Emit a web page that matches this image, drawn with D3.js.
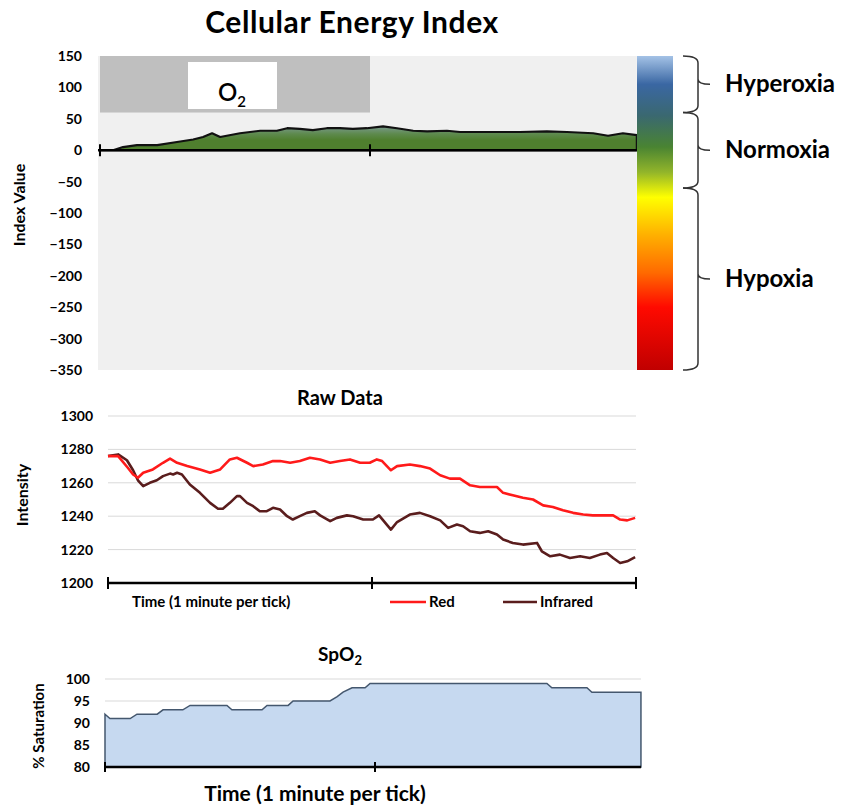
<!DOCTYPE html>
<html>
<head>
<meta charset="utf-8">
<script src="https://cdn.jsdelivr.net/npm/d3@7"></script>
<style>
  body { margin: 0; background: #fff; }
  svg text { font-family: Lato, "Open Sans", sans-serif; font-weight: bold; fill: #000; }
</style>
</head>
<body>
<svg id="chart" width="862" height="809"></svg>
<script>
// ---- data ----
// time in seconds, 1 minute per tick
var eiT = [0, 2.9, 5.1, 8.2, 12.7, 17.1, 20.7, 22.9, 24.9, 26.7, 31.1, 35.6, 39.3, 41.6, 44.4, 47.3, 50.4, 53.3, 56.2, 59.3,
  62.9, 66, 69.6, 72.7, 77.1, 80, 86, 89.6, 93.3, 99.3, 103.8, 109.6, 112.9, 116.2, 119.3];
var eiV = [0, 0, 5, 8, 8, 13, 17, 21, 27, 21, 27, 31, 31, 35, 34, 32, 35, 35, 34, 35,
  38, 35, 31, 30, 31, 29, 29, 29, 29, 30, 29, 27, 23, 27, 24];

var o2Period = [0, 60];       // O2 exposure window (s)
var o2Band = [60, 150];       // drawn band on index axis
var eiTicks = [150, 100, 50, 0, -50, -100, -150, -200, -250, -300, -350];

var zoneNames = ["Hyperoxia", "Normoxia", "Hypoxia"];
var zoneHi = [150, 60, -60];
var zoneLo = [60, -60, -350];

var redT = [0, 2.3, 4.5, 5.7, 6.8, 8, 10.2, 12.5, 14.1, 15.7, 18, 20.9, 23.2, 25.5, 27.7, 29.3, 31.6, 33, 35.2, 37.5,
  39.1, 41.4, 43.6, 45.9, 48.2, 50.5, 52.7, 55, 57.3, 59.5, 61.1, 62.3, 64.3, 65.7, 68.6, 70.9, 73.2, 75.5, 77.7, 80,
  82.3, 84.5, 88.4, 89.8, 92, 94.3, 96.6, 98.9, 101.1, 103.4, 105.7, 108, 110.2, 114.8, 116.4, 118, 119.8];
var redV = [1276, 1276, 1269, 1265, 1263, 1266, 1268, 1272, 1274.5, 1272, 1270, 1268, 1266, 1268, 1274, 1275, 1272, 1270, 1271, 1273,
  1273, 1272, 1273, 1275, 1274, 1272, 1273, 1274, 1272, 1272, 1274, 1273, 1267.5, 1270, 1271, 1270, 1268.5, 1264.5, 1262.5, 1262.5,
  1258.5, 1257.5, 1257.5, 1254, 1252.5, 1251, 1250, 1246.5, 1245.5, 1243.5, 1242, 1241, 1240.5, 1240.5, 1238, 1237.5, 1239];

var irT = [0, 2.3, 4.3, 5.7, 6.8, 8, 9.5, 11.1, 12.5, 14.1, 14.8, 15.7, 16.8, 18.6, 20.9, 23.2, 25, 26.1, 27.7, 29.3,
  30, 31.6, 33, 34.5, 36.1, 37.5, 39.1, 40.7, 42, 43.6, 45.2, 47, 48.2, 50.5, 52, 54.3, 55.7, 58, 60.2, 61.6,
  64.3, 65.7, 68.6, 70.9, 73.2, 75.5, 77.3, 79.3, 80.7, 82.3, 84.5, 86.4, 88.4, 89.8, 92, 94.3, 97.5, 98.6, 100.5, 102.7,
  105, 107.3, 109.5, 111.8, 113.4, 114.8, 116.4, 118, 119.8];
var irV = [1276, 1277, 1273.5, 1267.5, 1261.5, 1258, 1260, 1261.5, 1264, 1265.5, 1265, 1266, 1265, 1259, 1254, 1248, 1244.5, 1244.5, 1248, 1252,
  1252, 1248, 1246, 1243, 1243, 1245, 1244, 1240, 1238, 1240, 1242, 1243, 1240.5, 1237, 1239, 1240.5, 1240, 1238, 1238, 1240.5,
  1232, 1236.5, 1241, 1242, 1240, 1237.5, 1233, 1235, 1234, 1231, 1230, 1231, 1229, 1226, 1224, 1223, 1224, 1219, 1216, 1217,
  1215, 1216, 1215, 1217, 1218, 1215, 1212, 1213, 1215.5];
var rawTicks = [1200, 1220, 1240, 1260, 1280, 1300];

var spoT = [0, 1.1, 5.6, 7.1, 11.6, 12.9, 17.3, 18.9, 27.1, 28.2, 34.9, 36, 40.7, 41.8, 50, 51.6, 52.9, 54.9, 57.8, 58.9,
  98.2, 99.3, 107.1, 108.2, 119.1];
var spoV = [92, 91, 91, 92, 92, 93, 93, 94, 94, 93, 93, 94, 94, 95, 95, 96, 97, 98, 98, 99,
  99, 98, 98, 97, 97];
var spoTicks = [80, 85, 90, 95, 100];

var minuteTicks = [0, 60, 120];

var svg = d3.select("#chart");

function zip(ts, vs) { return ts.map(function(t, i) { return {t: t, v: vs[i]}; }); }

// ============ Cellular Energy Index ============
var xTop = d3.scaleLinear().domain([0, 120]).range([100, 640]);
var yTop = d3.scaleLinear().domain([-350, 150]).range([370, 56]);

svg.append("text").attr("x", 352).attr("y", 33).attr("text-anchor", "middle")
  .style("font-size", "30px").style("letter-spacing", "0.6px").text("Cellular Energy Index");

svg.append("rect").attr("x", 98).attr("y", yTop(150))
  .attr("width", xTop(119.3) - 98).attr("height", yTop(-350) - yTop(150))
  .attr("fill", "#f0f0f0");

// O2 band
svg.append("rect").attr("x", xTop(o2Period[0])).attr("y", yTop(o2Band[1]))
  .attr("width", xTop(o2Period[1]) - xTop(o2Period[0]))
  .attr("height", yTop(o2Band[0]) - yTop(o2Band[1]))
  .attr("fill", "#bfbfbf");
svg.append("rect").attr("x", 188).attr("y", 62).attr("width", 89).attr("height", 47).attr("fill", "#fff");
var o2 = svg.append("text").attr("x", 232).attr("y", 101).attr("text-anchor", "middle")
  .style("font-size", "24px").style("font-weight", "600");
o2.append("tspan").text("O");
o2.append("tspan").attr("dy", 6).style("font-size", "15px").text("2");

// area gradient
var defs = svg.append("defs");
var gg = defs.append("linearGradient").attr("id", "eiFill")
  .attr("gradientUnits", "userSpaceOnUse")
  .attr("x1", 0).attr("x2", 0).attr("y1", yTop(40)).attr("y2", yTop(0));
gg.append("stop").attr("offset", "0%").attr("stop-color", "#7e9c98");
gg.append("stop").attr("offset", "35%").attr("stop-color", "#5e8a4e");
gg.append("stop").attr("offset", "60%").attr("stop-color", "#4f7f2e");
gg.append("stop").attr("offset", "100%").attr("stop-color", "#4f7f2e");

var eiArea = d3.area().x(function(d) { return xTop(d.t); })
  .y0(yTop(0)).y1(function(d) { return yTop(d.v); });
svg.append("path").datum(zip(eiT, eiV)).attr("d", eiArea)
  .attr("fill", "url(#eiFill)").attr("stroke", "#111").attr("stroke-width", 2.2)
  .attr("stroke-linejoin", "round");

var topAxis = d3.axisLeft(yTop).tickValues(eiTicks).tickSize(0).tickPadding(0);
svg.append("g").attr("transform", "translate(82,0)").call(topAxis)
  .call(function(g) { g.select(".domain").remove(); })
  .selectAll("text").style("font-size", "14px").attr("fill", "#000");

svg.append("line").attr("x1", 98).attr("x2", xTop(119.3)).attr("y1", yTop(0)).attr("y2", yTop(0))
  .attr("stroke", "#000").attr("stroke-width", 2.5);
svg.selectAll(".tickTop").data([0, 60]).enter().append("line")
  .attr("x1", function(d) { return xTop(d); }).attr("x2", function(d) { return xTop(d); })
  .attr("y1", yTop(0) - 6).attr("y2", yTop(0) + 6)
  .attr("stroke", "#000").attr("stroke-width", 2);

svg.append("text").attr("transform", "translate(25,205) rotate(-90)")
  .attr("text-anchor", "middle").style("font-size", "16px").text("Index Value");

// colour bar
var cb = defs.append("linearGradient").attr("id", "cbar")
  .attr("x1", 0).attr("x2", 0).attr("y1", 0).attr("y2", 1);
[["0%", "#a4c2e6"], ["9%", "#3a67a3"], ["19%", "#3a6870"], ["29%", "#4a8432"], ["37%", "#92b52a"],
 ["45%", "#ffff00"], ["57%", "#ffb000"], ["69%", "#ff6a00"], ["80%", "#ff0a00"], ["100%", "#c00000"]]
  .forEach(function(s) { cb.append("stop").attr("offset", s[0]).attr("stop-color", s[1]); });
svg.append("rect").attr("x", 637).attr("y", yTop(150)).attr("width", 36)
  .attr("height", yTop(-350) - yTop(150)).attr("fill", "url(#cbar)");

// braces
zoneNames.forEach(function(name, i) {
  var y1 = yTop(zoneHi[i]), y2 = yTop(zoneLo[i]), ym = (y1 + y2) / 2;
  var p = "M683," + y1 + " Q698," + y1 + " 698," + (y1 + 7) +
    " L698," + (ym - 5) + " Q698," + ym + " 710," + ym +
    " M698," + (ym - 5) + " Q698," + ym + " 698," + (ym + 5) +
    " L698," + (y2 - 7) + " Q698," + y2 + " 683," + y2;
  svg.append("path").attr("d", p).attr("fill", "none").attr("stroke", "#333").attr("stroke-width", 1.5);
  svg.append("text").attr("x", 725).attr("y", ym + 8).style("font-size", "24px").text(name);
});

// ============ Raw Data ============
var xMid = d3.scaleLinear().domain([0, 120]).range([108, 636]);
var yMid = d3.scaleLinear().domain([1200, 1300]).range([583, 416]);

svg.append("text").attr("x", 340).attr("y", 405).attr("text-anchor", "middle")
  .style("font-size", "20px").text("Raw Data");

svg.selectAll(".gridMid").data(rawTicks.slice(1)).enter().append("line")
  .attr("x1", 108).attr("x2", 636)
  .attr("y1", function(d) { return yMid(d); }).attr("y2", function(d) { return yMid(d); })
  .attr("stroke", "#d9d9d9").attr("stroke-width", 1);

var midAxis = d3.axisLeft(yMid).tickValues(rawTicks).tickSize(0).tickPadding(0).tickFormat(d3.format("d"));
svg.append("g").attr("transform", "translate(93,0)").call(midAxis)
  .call(function(g) { g.select(".domain").remove(); })
  .selectAll("text").style("font-size", "14px").attr("fill", "#000");

var lineMid = d3.line().x(function(d) { return xMid(d.t); }).y(function(d) { return yMid(d.v); });
svg.append("path").datum(zip(irT, irV)).attr("d", lineMid)
  .attr("fill", "none").attr("stroke", "#5a1d1d").attr("stroke-width", 2.6).attr("stroke-linejoin", "round");
svg.append("path").datum(zip(redT, redV)).attr("d", lineMid)
  .attr("fill", "none").attr("stroke", "#ff1a1a").attr("stroke-width", 2.6).attr("stroke-linejoin", "round");

svg.append("line").attr("x1", xMid(0)).attr("x2", xMid(120)).attr("y1", yMid(1200)).attr("y2", yMid(1200))
  .attr("stroke", "#000").attr("stroke-width", 2.5);
svg.selectAll(".tickMid").data(minuteTicks).enter().append("line")
  .attr("x1", function(d) { return xMid(d); }).attr("x2", function(d) { return xMid(d); })
  .attr("y1", yMid(1200) - 6).attr("y2", yMid(1200) + 6)
  .attr("stroke", "#000").attr("stroke-width", 2);

svg.append("text").attr("transform", "translate(28,495) rotate(-90)")
  .attr("text-anchor", "middle").style("font-size", "16px").text("Intensity");

svg.append("text").attr("x", 132).attr("y", 607).style("font-size", "15px").text("Time (1 minute per tick)");
var legend = [["Red", "#ff1a1a", 390, 36], ["Infrared", "#5a1d1d", 503, 34]];
legend.forEach(function(l) {
  svg.append("line").attr("x1", l[2]).attr("x2", l[2] + l[3]).attr("y1", 602).attr("y2", 602)
    .attr("stroke", l[1]).attr("stroke-width", 2.5);
  svg.append("text").attr("x", l[2] + l[3] + 3).attr("y", 607).style("font-size", "15px").text(l[0]);
});

// ============ SpO2 ============
var xBot = d3.scaleLinear().domain([0, 120]).range([105, 645]);
var yBot = d3.scaleLinear().domain([80, 100]).range([767, 679]);

var sp = svg.append("text").attr("x", 340).attr("y", 661).attr("text-anchor", "middle").style("font-size", "19px");
sp.append("tspan").text("SpO");
sp.append("tspan").attr("dy", 4).style("font-size", "13px").text("2");

svg.selectAll(".gridBot").data(spoTicks.slice(1)).enter().append("line")
  .attr("x1", xBot(0)).attr("x2", xBot(119.1))
  .attr("y1", function(d) { return yBot(d); }).attr("y2", function(d) { return yBot(d); })
  .attr("stroke", "#d9d9d9").attr("stroke-width", 1);

var spArea = d3.area().x(function(d) { return xBot(d.t); })
  .y0(yBot(80)).y1(function(d) { return yBot(d.v); });
svg.append("path").datum(zip(spoT, spoV)).attr("d", spArea)
  .attr("fill", "#c6d9f0").attr("stroke", "#44576e").attr("stroke-width", 1.5);

var botAxis = d3.axisLeft(yBot).tickValues(spoTicks).tickSize(0).tickPadding(0);
svg.append("g").attr("transform", "translate(90,0)").call(botAxis)
  .call(function(g) { g.select(".domain").remove(); })
  .selectAll("text").style("font-size", "14px").attr("fill", "#000");

svg.append("line").attr("x1", xBot(0)).attr("x2", xBot(119.1)).attr("y1", yBot(80)).attr("y2", yBot(80))
  .attr("stroke", "#000").attr("stroke-width", 2.5);
svg.selectAll(".tickBot").data([0, 60]).enter().append("line")
  .attr("x1", function(d) { return xBot(d); }).attr("x2", function(d) { return xBot(d); })
  .attr("y1", yBot(80) - 5).attr("y2", yBot(80) + 5)
  .attr("stroke", "#000").attr("stroke-width", 2);

svg.append("text").attr("transform", "translate(44,726) rotate(-90)")
  .attr("text-anchor", "middle").style("font-size", "15px").text("% Saturation");

svg.append("text").attr("x", 315).attr("y", 801).attr("text-anchor", "middle")
  .style("font-size", "21px").text("Time (1 minute per tick)");
</script>
</body>
</html>
